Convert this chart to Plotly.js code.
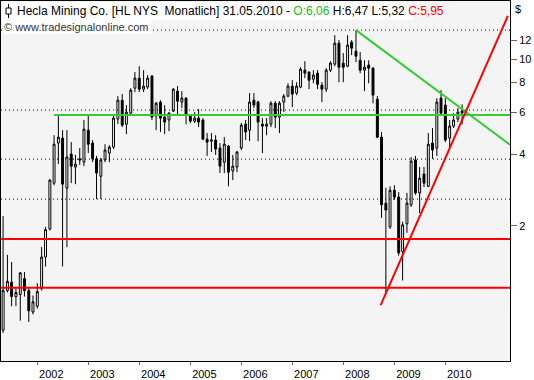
<!DOCTYPE html>
<html>
<head>
<meta charset="utf-8">
<script src="https://cdn.plot.ly/plotly-3.0.1.min.js"></script>
<style>
html,body{margin:0;padding:0;background:#fff;}
#chart{width:534px;height:380px;}
</style>
</head>
<body>
<div id="chart"></div>
<script>
// Monthly candles, May 2001 .. May 2010
const startYear = 2001, startMonth = 5, monthCount = 109;
const months = [];
for (let i = 0; i < monthCount; i++) {
  const t = startMonth - 1 + i;
  const y = startYear + Math.floor(t / 12);
  const m = (t % 12) + 1;
  months.push(y + '-' + String(m).padStart(2, '0') + '-01');
}

const openP = [
  0.73,1.07,1.16,1.01,1.03,1.20,1.07,0.87,
  0.92,1.09,1.48,1.94,3.02,4.45,4.67,2.88,4.00,3.53,3.82,3.70,
  5.04,4.45,3.82,3.23,3.78,4.04,4.28,5.61,6.73,5.34,5.94,7.56,
  8.33,7.49,7.64,8.50,5.78,6.61,5.72,5.56,6.06,7.35,6.61,6.87,
  5.83,5.50,5.66,5.56,4.62,4.53,4.58,4.24,3.70,4.32,3.40,3.53,
  4.24,5.34,5.04,6.73,6.61,5.34,5.24,5.34,6.54,5.72,6.61,7.00,
  7.71,7.21,7.64,9.00,8.83,8.25,8.74,7.78,7.49,9.00,9.54,11.68,
  9.63,9.35,11.79,10.81,9.90,9.00,9.45,9.17,6.80,4.71,2.49,1.98,
  2.82,2.64,1.56,2.04,2.45,3.78,2.75,3.30,2.93,4.45,4.24,6.87,
  6.42,4.67,5.24,5.61,6.06
];
const highP = [
  2.20,1.51,1.41,1.11,1.28,1.28,1.10,1.02,
  1.15,1.63,1.98,3.14,4.80,5.83,5.04,5.04,4.49,3.97,4.24,5.56,
  5.83,4.58,3.93,3.85,4.40,4.36,5.83,7.00,7.14,6.42,7.56,8.83,
  9.35,9.00,8.58,8.58,6.61,6.73,6.42,6.00,7.56,7.71,7.35,6.93,
  5.89,6.00,6.18,5.66,4.90,4.90,4.80,4.45,4.71,4.36,3.97,4.12,
  5.40,5.56,7.21,7.21,6.70,5.66,5.66,6.67,6.67,6.67,7.14,7.93,
  8.17,8.01,9.26,9.81,8.91,9.00,9.00,8.01,9.17,9.81,12.61,12.03,
  10.61,12.61,12.03,13.25,10.71,9.90,9.90,9.26,7.00,4.95,2.89,2.93,
  2.96,2.77,2.08,2.75,3.89,3.93,3.53,3.53,4.90,5.14,6.87,7.42,
  6.87,5.56,5.94,6.24,6.47
];
const lowP = [
  0.71,1.05,0.92,0.92,0.80,1.01,0.79,0.85,
  0.90,1.07,1.35,1.91,2.96,3.63,1.35,1.63,3.02,2.99,3.60,3.56,
  4.04,3.70,2.59,2.59,3.70,3.70,4.20,5.34,5.19,4.85,5.83,7.28,
  7.28,7.28,7.49,5.56,5.04,4.95,4.85,4.99,6.00,5.78,6.24,5.34,
  5.40,5.40,5.19,4.58,3.93,4.08,3.97,3.33,3.33,2.93,3.11,3.36,
  4.16,4.58,4.53,6.24,4.53,4.04,4.80,5.19,5.14,4.90,6.00,6.93,
  6.30,7.07,7.56,8.33,7.49,7.93,7.49,6.61,7.28,8.83,9.35,8.01,
  8.01,9.26,10.41,9.72,8.74,7.35,7.93,6.54,4.67,2.16,1.05,1.94,
  2.57,1.50,1.18,1.87,2.40,2.70,2.26,2.91,2.91,3.82,3.93,5.78,
  4.49,4.24,5.14,5.45,5.32
];
const closeP = [
  1.07,1.17,1.01,1.05,1.27,1.07,0.88,0.96,
  1.06,1.48,1.93,3.11,4.40,4.71,2.99,3.89,3.56,3.63,3.78,5.09,
  4.40,3.82,3.33,3.78,4.16,4.28,5.66,6.73,5.29,6.00,7.42,8.33,
  7.49,7.71,8.33,5.72,6.54,5.66,5.45,5.94,7.49,6.67,6.87,5.83,
  5.50,5.66,5.45,4.62,4.49,4.58,4.20,3.56,4.40,3.36,3.56,4.08,
  5.29,4.95,6.61,6.42,5.45,5.24,5.34,6.54,5.72,6.54,7.00,7.71,
  7.14,7.71,9.08,8.74,8.17,8.58,7.85,7.49,9.00,9.63,11.68,9.26,
  9.26,11.46,11.13,10.30,9.00,9.26,9.17,7.07,4.71,2.45,2.33,2.82,
  2.64,1.54,2.02,2.49,3.74,2.75,3.17,3.02,4.40,4.16,6.61,5.94,
  4.58,5.24,5.56,6.00,5.95
];

// Axis extent and drawn lines
const xRange = ['2001-04-16', '2011-04-09'];
const yTicks = [2, 4, 6, 8, 10, 12];
const yearTicks = ['2002','2003','2004','2005','2006','2007','2008','2009','2010'];
const gridLevels = [13.25, 6.12, 3.81, 2.59];
const greenLevel = 5.83, greenLevelStart = '2002-05-01';
const redLevels = [1.76, 1.10];
const greenTrendX = ['2008-04-01', '2011-04-09'], greenTrendY = [13.25, 4.38];
const redTrendX = ['2008-09-25', '2011-03-25'], redTrendY = [0.93, 15.2];

const FONT = 'Liberation Sans, Arial, sans-serif';
const GREEN = '#33cc33', RED = '#ff0000';

const traces = [];
gridLevels.forEach(v => traces.push({
  type: 'scatter', mode: 'lines', x: xRange, y: [v, v],
  line: {color: '#000', width: 1, dash: '1px,3px'}, hoverinfo: 'skip', showlegend: false
}));
traces.push({
  type: 'candlestick', x: months, open: openP, high: highP, low: lowP, close: closeP,
  increasing: {line: {color: '#000', width: 1}, fillcolor: '#ffffff'},
  decreasing: {line: {color: '#000', width: 1}, fillcolor: '#000000'},
  whiskerwidth: 0, hoverinfo: 'none', showlegend: false
});
traces.push({type: 'scatter', mode: 'lines', x: [greenLevelStart, xRange[1]], y: [greenLevel, greenLevel],
  line: {color: GREEN, width: 2}, hoverinfo: 'skip', showlegend: false});
redLevels.forEach(v => traces.push({
  type: 'scatter', mode: 'lines', x: xRange, y: [v, v],
  line: {color: RED, width: 2}, hoverinfo: 'skip', showlegend: false
}));
traces.push({type: 'scatter', mode: 'lines', x: greenTrendX, y: greenTrendY,
  line: {color: GREEN, width: 2}, hoverinfo: 'skip', showlegend: false});
traces.push({type: 'scatter', mode: 'lines', x: redTrendX, y: redTrendY,
  line: {color: RED, width: 2}, hoverinfo: 'skip', showlegend: false});

const pxShape = (x0, x1, y0, y1, extra) => Object.assign({
  xref: 'paper', yref: 'paper', xsizemode: 'pixel', ysizemode: 'pixel',
  xanchor: 0, yanchor: 1, x0: x0, x1: x1, y0: y0, y1: y1, layer: 'above'
}, extra);

const layout = {
  width: 534, height: 380,
  margin: {l: 1, r: 24, t: 1, b: 19, pad: 0},
  paper_bgcolor: '#ffffff', plot_bgcolor: '#f4f4f4',
  showlegend: false,
  font: {family: FONT, size: 11, color: '#000'},
  xaxis: {
    type: 'date', range: xRange, rangeslider: {visible: false},
    tickvals: yearTicks.map(y => y + '-01-01'), ticktext: yearTicks,
    ticks: 'outside', ticklen: 3, tickcolor: '#666', tickwidth: 1,
    ticklabelshift: 14, ticklabelstandoff: 0,
    showgrid: false, zeroline: false, showline: true, mirror: true, linecolor: '#000', linewidth: 1,
    tickfont: {family: FONT, size: 11, color: '#000'}, fixedrange: true
  },
  yaxis: {
    type: 'log', side: 'right', range: [Math.log10(0.542), Math.log10(17.55)],
    tickvals: yTicks, ticktext: yTicks.map(String),
    ticks: 'outside', ticklen: 6, tickcolor: '#666', tickwidth: 1,
    showgrid: false, zeroline: false, showline: true, mirror: true, linecolor: '#000', linewidth: 1,
    tickfont: {family: FONT, size: 11, color: '#000'}, fixedrange: true
  },
  shapes: [
    pxShape(1, 412, -1, -19, {type: 'rect', fillcolor: '#ffffff', line: {width: 0}}),
    pxShape(1, 150, -19, -33, {type: 'rect', fillcolor: '#ffffff', line: {width: 0}}),
    pxShape(7.5, 7.5, -3, -17, {type: 'line', line: {color: '#000', width: 1}}),
    pxShape(5, 10, -7, -13, {type: 'rect', fillcolor: '#ffffff', line: {color: '#000', width: 1}})
  ],
  annotations: [
    {xref: 'paper', yref: 'paper', x: 0, y: 1, xanchor: 'left', yanchor: 'top',
     xshift: 14, yshift: -1, showarrow: false, font: {family: FONT, size: 12, color: '#000'},
     text: 'Hecla Mining Co. [HL NYS\u00a0 Monatlich] 31.05.2010 - <span style="color:#22bb22">O:6,06</span> H:6,47 L:5,32 <span style="color:#ff0000">C:5,95</span>'},
    {xref: 'paper', yref: 'paper', x: 0, y: 1, xanchor: 'left', yanchor: 'top',
     xshift: 1, yshift: -18, showarrow: false, font: {family: FONT, size: 11, color: '#333'},
     text: '\u00a9 www.tradesignalonline.com'},
    {xref: 'paper', yref: 'paper', x: 1, y: 1, xanchor: 'left', yanchor: 'top',
     xshift: 3, yshift: 0, showarrow: false, font: {family: FONT, size: 11, color: '#000'},
     text: '$'}
  ]
};

Plotly.newPlot('chart', traces, layout, {staticPlot: true, displayModeBar: false});
</script>
</body>
</html>
